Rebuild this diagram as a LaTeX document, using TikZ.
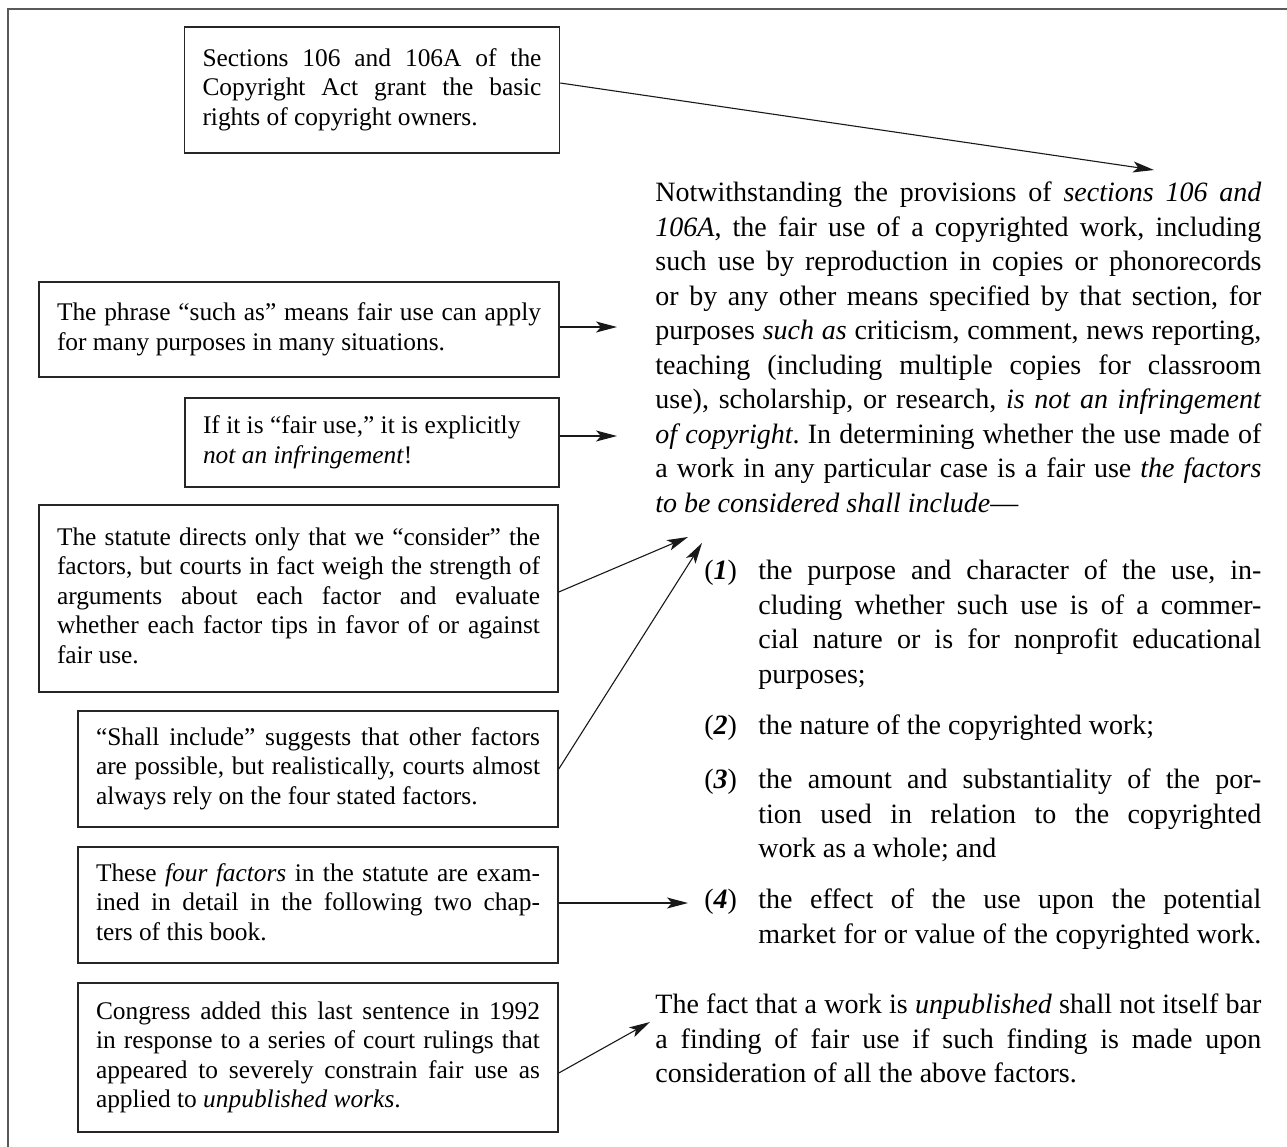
\documentclass[tikz,border=0pt]{standalone}
\usepackage{fontspec}
\setmainfont{Liberation Serif}
\usetikzlibrary{arrows.meta}
\newdimen\tw
\newcommand\jline[1]{\hbox to\tw{\strut #1}}
\newcommand\lline[1]{\hbox to\tw{\strut #1\hfil}}
\newcommand\boxfont{\fontsize{12.7pt}{14.75pt}\selectfont\frenchspacing}
\newcommand\statfont{\fontsize{14pt}{17.25pt}\selectfont\frenchspacing}
\newcommand\fnum[1]{(\textbf{\textit{#1}})}
\begin{document}
\begin{tikzpicture}[x=0.5pt,y=-0.5pt,
  notebox/.style={draw=black!85, line width=0.75pt, inner xsep=9pt, inner ysep=0pt, font=\boxfont},
  stat/.style={inner sep=0pt, anchor=north west, font=\statfont},
  arr/.style={-{Stealth[length=10.5pt,width=5.5pt,inset=2.5pt]}, line width=0.55pt, black!90}]
\useasboundingbox (0,0) rectangle (1287,1147);
\draw[line width=1.1pt, black!65] (8,1147) -- (8,9) -- (1287,9);

% note boxes
\node[notebox, minimum width=187.5pt, minimum height=63pt] (b1) at (372,90) {\vbox{\tw=169.5pt
\jline{Sections 106 and 106A of the}
\jline{Copyright Act grant the basic}
\lline{rights of copyright owners.}}};
\node[notebox, minimum width=260pt, minimum height=47.5pt] (b2) at (299,329.5) {\vbox{\tw=242pt
\jline{The phrase “such as” means fair use can apply}
\lline{for many purposes in many situations.}}};
\node[notebox, minimum width=187pt, minimum height=44.5pt] (b3) at (372,442.5) {\vbox{\tw=169pt
\lline{If it is “fair use,” it is explicitly}
\lline{\textit{not an infringement}!}}};
\node[notebox, minimum width=259.5pt, minimum height=93.5pt] (b4) at (298.5,598.5) {\vbox{\tw=241.5pt
\jline{The statute directs only that we “consider” the}
\jline{factors, but courts in fact weigh the strength of}
\jline{arguments about each factor and evaluate}
\jline{whether each factor tips in favor of or against}
\lline{fair use.}}};
\node[notebox, minimum width=240pt, minimum height=58pt] (b5) at (318,769) {\vbox{\tw=222pt
\jline{“Shall include” suggests that other factors}
\jline{are possible, but realistically, courts almost}
\lline{always rely on the four stated factors.}}};
\node[notebox, minimum width=240pt, minimum height=58pt] (b6) at (318,905) {\vbox{\tw=222pt
\jline{These \textit{four factors} in the statute are exam-}
\jline{ined in detail in the following two chap-}
\lline{ters of this book.}}};
\node[notebox, minimum width=240pt, minimum height=74.5pt] (b7) at (318,1057.5) {\vbox{\tw=222pt
\jline{Congress added this last sentence in 1992}
\jline{in response to a series of court rulings that}
\jline{appeared to severely constrain fair use as}
\lline{applied to \textit{unpublished works}.}}};

% statute text
\node[stat] (s1) at (655,177) {\vbox{\tw=303pt
\jline{Notwithstanding the provisions of \textit{sections 106 and}}
\jline{\textit{106A}, the fair use of a copyrighted work, including}
\jline{such use by reproduction in copies or phonorecords}
\jline{or by any other means specified by that section, for}
\jline{purposes \textit{such as} criticism, comment, news reporting,}
\jline{teaching (including multiple copies for classroom}
\jline{use), scholarship, or research, \textit{is not an infringement}}
\jline{\textit{of copyright}. In determining whether the use made of}
\jline{a work in any particular case is a fair use \textit{the factors}}
\lline{\textit{to be considered shall include}—}}};

\node[stat] (n1) at (704,555) {\strut\fnum{1}};
\node[stat] (i1) at (758,555) {\vbox{\tw=251.5pt
\jline{the purpose and character of the use, in-}
\jline{cluding whether such use is of a commer-}
\jline{cial nature or is for nonprofit educational}
\lline{purposes;}}};
\node[stat] (n2) at (704,710) {\strut\fnum{2}};
\node[stat] (i2) at (758,710) {\vbox{\tw=251.5pt
\lline{the nature of the copyrighted work;}}};
\node[stat] (n3) at (704,764) {\strut\fnum{3}};
\node[stat] (i3) at (758,764) {\vbox{\tw=251.5pt
\jline{the amount and substantiality of the por-}
\jline{tion used in relation to the copyrighted}
\lline{work as a whole; and}}};
\node[stat] (n4) at (704,884) {\strut\fnum{4}};
\node[stat] (i4) at (758,884) {\vbox{\tw=251.5pt
\jline{the effect of the use upon the potential}
\jline{market for or value of the copyrighted work.}}};

\node[stat] (s3) at (655,989) {\vbox{\tw=303pt
\jline{The fact that a work is \textit{unpublished} shall not itself bar}
\jline{a finding of fair use if such finding is made upon}
\lline{consideration of all the above factors.}}};

% connectors
\coordinate (t1) at (1154,170);
\coordinate (t2) at (617,327);
\coordinate (t3) at (617,436);
\coordinate (t4) at (688,537);
\coordinate (t5) at (702,543);
\coordinate (t6) at (688,903);
\coordinate (t7) at (650,1022);
\draw[arr] ([yshift=3.5pt]b1.east) -- (t1);
\draw[arr] ([yshift=1.25pt]b2.east) -- (t2);
\draw[arr] ([yshift=3.25pt]b3.east) -- (t3);
\draw[arr] ([yshift=3.25pt]b4.east) -- (t4);
\draw[arr] (b5.east) -- (t5);
\draw[arr] ([yshift=1pt]b6.east) -- (t6);
\draw[arr] ([yshift=-7.75pt]b7.east) -- (t7);
\end{tikzpicture}
\end{document}
